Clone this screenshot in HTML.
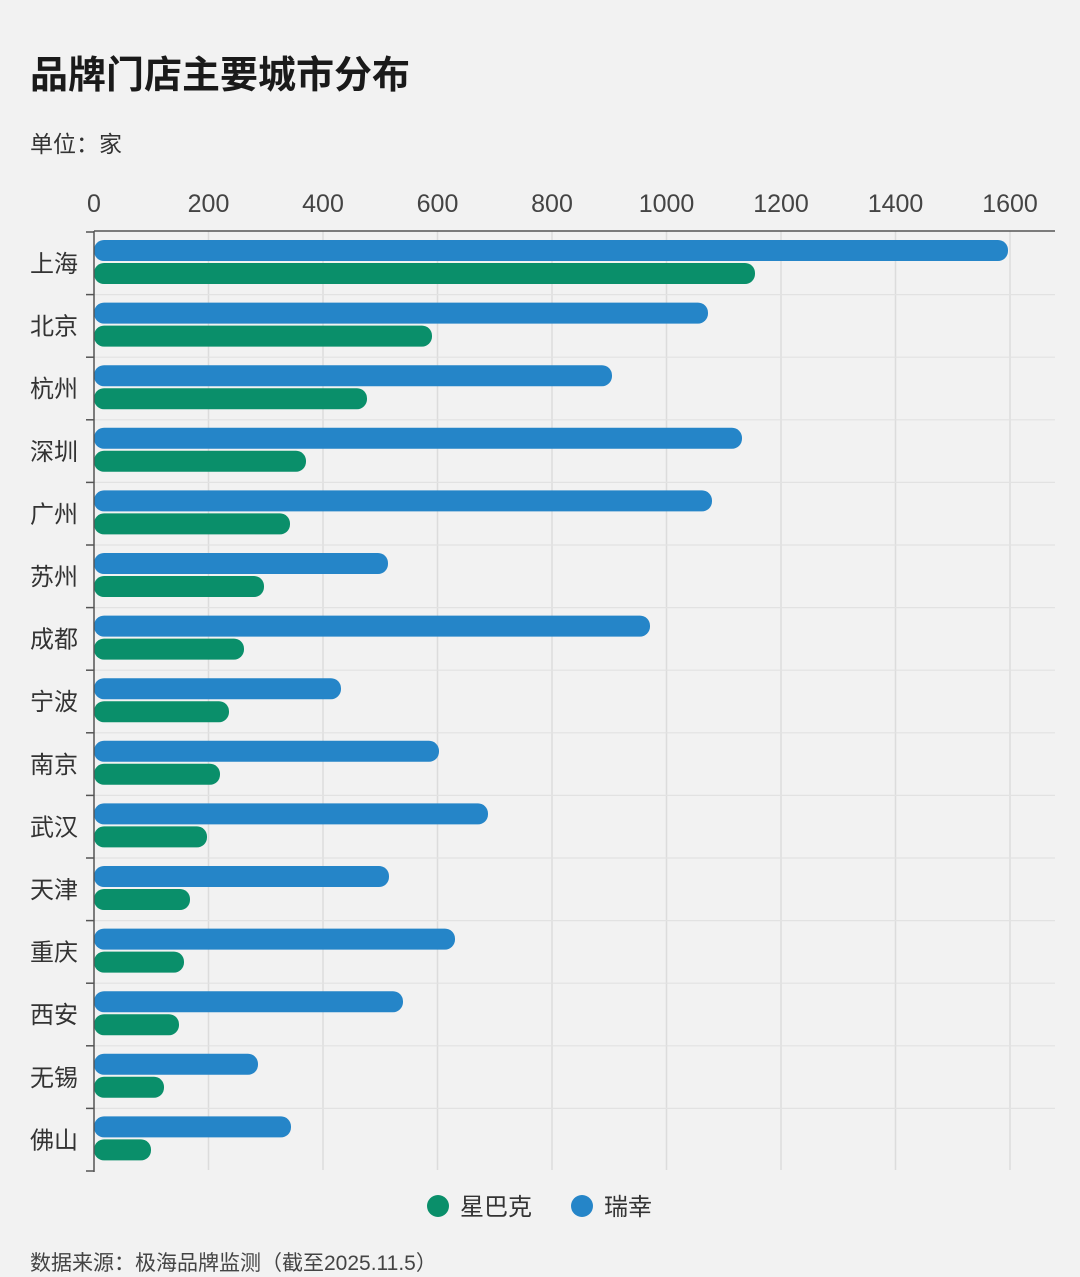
<!DOCTYPE html>
<html><head><meta charset="utf-8"><style>
html,body{margin:0;padding:0;background:#f2f2f2;}
body{width:1080px;height:1272px;overflow:hidden;}
</style></head><body>
<svg width="1080" height="1272" xmlns="http://www.w3.org/2000/svg" font-family="Liberation Sans, Noto Sans CJK SC, sans-serif">
<rect width="1080" height="1272" fill="#f2f2f2"/>
<text x="30" y="88" font-size="38" font-weight="bold" fill="#1a1a1a">品牌门店主要城市分布</text>
<text x="30" y="152" font-size="23" fill="#333">单位：家</text>
<g font-size="25" fill="#444" text-anchor="middle">
<text x="94" y="212">0</text><text x="208.5" y="212">200</text><text x="323" y="212">400</text><text x="437.5" y="212">600</text><text x="552" y="212">800</text><text x="666.5" y="212">1000</text><text x="781" y="212">1200</text><text x="895.5" y="212">1400</text><text x="1010" y="212">1600</text>
</g>
<g stroke="#dcdcdc" stroke-width="1.5">
<line x1="208.5" y1="231" x2="208.5" y2="1170"/><line x1="323" y1="231" x2="323" y2="1170"/><line x1="437.5" y1="231" x2="437.5" y2="1170"/><line x1="552" y1="231" x2="552" y2="1170"/><line x1="666.5" y1="231" x2="666.5" y2="1170"/><line x1="781" y1="231" x2="781" y2="1170"/><line x1="895.5" y1="231" x2="895.5" y2="1170"/><line x1="1010" y1="231" x2="1010" y2="1170"/>
</g>
<g stroke="#e2e2e2" stroke-width="1.2">
<line x1="94" y1="294.6" x2="1055" y2="294.6"/><line x1="94" y1="357.2" x2="1055" y2="357.2"/><line x1="94" y1="419.8" x2="1055" y2="419.8"/><line x1="94" y1="482.4" x2="1055" y2="482.4"/><line x1="94" y1="545" x2="1055" y2="545"/><line x1="94" y1="607.6" x2="1055" y2="607.6"/><line x1="94" y1="670.2" x2="1055" y2="670.2"/><line x1="94" y1="732.8" x2="1055" y2="732.8"/><line x1="94" y1="795.4" x2="1055" y2="795.4"/><line x1="94" y1="858" x2="1055" y2="858"/><line x1="94" y1="920.6" x2="1055" y2="920.6"/><line x1="94" y1="983.2" x2="1055" y2="983.2"/><line x1="94" y1="1045.8" x2="1055" y2="1045.8"/><line x1="94" y1="1108.4" x2="1055" y2="1108.4"/>
</g>
<g stroke="#555" stroke-width="1.5">
<line x1="86" y1="232" x2="94" y2="232"/><line x1="86" y1="294.6" x2="94" y2="294.6"/><line x1="86" y1="357.2" x2="94" y2="357.2"/><line x1="86" y1="419.8" x2="94" y2="419.8"/><line x1="86" y1="482.4" x2="94" y2="482.4"/><line x1="86" y1="545" x2="94" y2="545"/><line x1="86" y1="607.6" x2="94" y2="607.6"/><line x1="86" y1="670.2" x2="94" y2="670.2"/><line x1="86" y1="732.8" x2="94" y2="732.8"/><line x1="86" y1="795.4" x2="94" y2="795.4"/><line x1="86" y1="858" x2="94" y2="858"/><line x1="86" y1="920.6" x2="94" y2="920.6"/><line x1="86" y1="983.2" x2="94" y2="983.2"/><line x1="86" y1="1045.8" x2="94" y2="1045.8"/><line x1="86" y1="1108.4" x2="94" y2="1108.4"/><line x1="86" y1="1171" x2="94" y2="1171"/>
</g>
<g fill="#2585c8">
<rect x="94" y="240" width="914" height="21" rx="10"/>
<rect x="94" y="302.6" width="614" height="21" rx="10"/>
<rect x="94" y="365.2" width="518" height="21" rx="10"/>
<rect x="94" y="427.8" width="648" height="21" rx="10"/>
<rect x="94" y="490.4" width="618" height="21" rx="10"/>
<rect x="94" y="553" width="294" height="21" rx="10"/>
<rect x="94" y="615.6" width="556" height="21" rx="10"/>
<rect x="94" y="678.2" width="247" height="21" rx="10"/>
<rect x="94" y="740.8" width="345" height="21" rx="10"/>
<rect x="94" y="803.4" width="394" height="21" rx="10"/>
<rect x="94" y="866" width="295" height="21" rx="10"/>
<rect x="94" y="928.6" width="361" height="21" rx="10"/>
<rect x="94" y="991.2" width="309" height="21" rx="10"/>
<rect x="94" y="1053.8" width="164" height="21" rx="10"/>
<rect x="94" y="1116.4" width="197" height="21" rx="10"/>
</g>
<g fill="#0a8f6a">
<rect x="94" y="263" width="661" height="21" rx="10"/>
<rect x="94" y="325.6" width="338" height="21" rx="10"/>
<rect x="94" y="388.2" width="273" height="21" rx="10"/>
<rect x="94" y="450.8" width="212" height="21" rx="10"/>
<rect x="94" y="513.4" width="196" height="21" rx="10"/>
<rect x="94" y="576" width="170" height="21" rx="10"/>
<rect x="94" y="638.6" width="150" height="21" rx="10"/>
<rect x="94" y="701.2" width="135" height="21" rx="10"/>
<rect x="94" y="763.8" width="126" height="21" rx="10"/>
<rect x="94" y="826.4" width="113" height="21" rx="10"/>
<rect x="94" y="889" width="96" height="21" rx="10"/>
<rect x="94" y="951.6" width="90" height="21" rx="10"/>
<rect x="94" y="1014.2" width="85" height="21" rx="10"/>
<rect x="94" y="1076.8" width="70" height="21" rx="10"/>
<rect x="94" y="1139.4" width="57" height="21" rx="10"/>
</g>
<g font-size="24" fill="#333">
<text x="30" y="272">上海</text><text x="30" y="334.6">北京</text><text x="30" y="397.2">杭州</text><text x="30" y="459.8">深圳</text><text x="30" y="522.4">广州</text><text x="30" y="585">苏州</text><text x="30" y="647.6">成都</text><text x="30" y="710.2">宁波</text><text x="30" y="772.8">南京</text><text x="30" y="835.4">武汉</text><text x="30" y="898">天津</text><text x="30" y="960.6">重庆</text><text x="30" y="1023.2">西安</text><text x="30" y="1085.8">无锡</text><text x="30" y="1148.4">佛山</text>
</g>
<rect x="94" y="232" width="12" height="940" fill="none"/>
<line x1="94" y1="231" x2="1055" y2="231" stroke="#555" stroke-width="1.5"/>
<line x1="94" y1="231" x2="94" y2="1172" stroke="#555" stroke-width="1.5"/>
<circle cx="438" cy="1206" r="11" fill="#0a8f6a"/><text x="460" y="1215" font-size="24" fill="#333">星巴克</text>
<circle cx="582" cy="1206" r="11" fill="#2585c8"/><text x="604" y="1215" font-size="24" fill="#333">瑞幸</text>
<text x="30" y="1270" font-size="21" fill="#444">数据来源：极海品牌监测（截至2025.11.5）</text>
</svg>
</body></html>
